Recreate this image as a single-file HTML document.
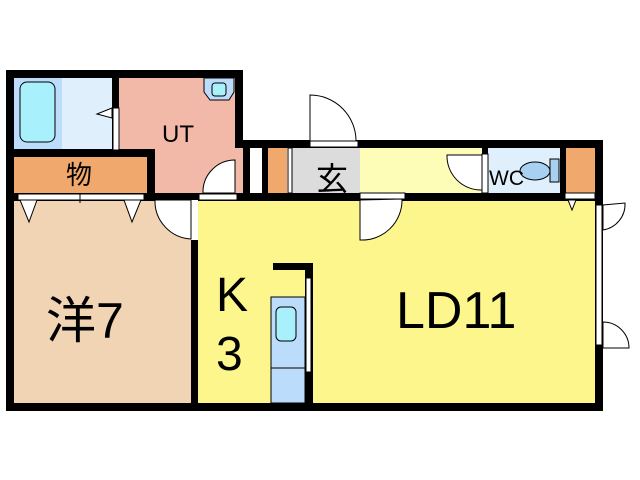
<!DOCTYPE html>
<html><head><meta charset="utf-8"><style>
html,body{margin:0;padding:0;background:#fff;width:640px;height:480px;overflow:hidden}
svg{display:block}
text{font-family:"Liberation Sans","Noto Sans CJK JP",sans-serif;fill:#000}
</style></head><body>
<svg width="640" height="480" viewBox="0 0 640 480">
<rect x="14" y="78" width="48" height="71" fill="#bcdcfc"/>
<rect x="62" y="78" width="50" height="71" fill="#dff0fc"/>
<rect x="20" y="82" width="35" height="60" rx="7" fill="#a8f0fc" stroke="#000" stroke-width="1"/>
<rect x="119" y="78" width="116" height="115" fill="#f2b8a8"/>
<rect x="155" y="148" width="88" height="45" fill="#f2b8a8"/>
<rect x="14" y="157" width="133" height="36" fill="#f0a86c"/>
<path d="M204 78 H234 V92 L229 100 H210 L204 92 Z" fill="#bcdcfc" stroke="#000"/>
<rect x="212" y="83" width="14" height="13" rx="3" fill="#a8f0fc" stroke="#000" stroke-width="1"/>
<rect x="268" y="148" width="19" height="45" fill="#f0a86c"/>
<rect x="250" y="148" width="12" height="45" fill="#fff"/>
<rect x="292" y="148" width="68" height="45" fill="#dcdcdc"/>
<rect x="360" y="148" width="122" height="45" fill="#fdfdb8"/>
<rect x="488" y="148" width="72" height="45" fill="#dff0fc"/>
<rect x="566" y="148" width="29" height="45" fill="#f0a86c"/>
<rect x="14" y="200" width="177" height="203" fill="#f0d4b4"/>
<rect x="198" y="200" width="397" height="203" fill="#fdf68c"/>
<g fill="#000">
<rect x="6" y="70" width="237" height="8"/>
<rect x="6" y="70" width="8" height="341"/>
<rect x="6" y="403" width="597" height="8"/>
<rect x="235" y="70" width="8" height="78"/>
<rect x="235" y="140" width="368" height="8"/>
<rect x="595" y="140" width="8" height="271"/>
<rect x="112" y="78" width="7" height="72"/>
<rect x="14" y="149" width="141" height="8"/>
<rect x="147" y="149" width="8" height="44"/>
<rect x="6" y="193" width="597" height="8"/>
<rect x="243" y="148" width="7" height="45"/>
<rect x="262" y="148" width="6" height="45"/>
<rect x="482" y="148" width="6" height="45"/>
<rect x="560" y="148" width="6" height="45"/>
<rect x="191" y="193" width="7" height="218"/>
<rect x="273" y="263" width="40" height="7"/>
<rect x="305" y="263" width="8" height="148"/>
</g>
<g fill="#fff" stroke="#000" stroke-width="1">
<rect x="113" y="108" width="6" height="42"/>
<rect x="18" y="194" width="126" height="6"/>
<rect x="199" y="194" width="38" height="6"/>
<rect x="191" y="200" width="7" height="40" stroke="none"/>
<rect x="310" y="141" width="48" height="6"/>
<rect x="360" y="193" width="45" height="6"/>
<rect x="565" y="193" width="30" height="6"/>
<rect x="596" y="205" width="6" height="140"/>
<rect x="288" y="148" width="4" height="45"/>
<rect x="482" y="154" width="6" height="39"/>
<rect x="306" y="278" width="5" height="94"/>
</g>
<line x1="80" y1="194" x2="80" y2="203" stroke="#000"/>
<g fill="#fff" stroke="#000" stroke-width="1">
<path d="M310 141 V95 A46 46 0 0 1 356 141 Z"/>
<path d="M360 200 V240 A40 40 0 0 0 402 199 Z"/>
<path d="M235 193 H203 A32 32 0 0 1 235 160 Z"/>
<path d="M155 200 H191 V239 A38 38 0 0 1 155 200 Z"/>
<path d="M482 190 A34 34 0 0 1 447 155 H482 Z"/>
<path d="M603 205 V230 A26 26 0 0 0 625 203 Z"/>
<path d="M603 348 V322 A26 26 0 0 1 629 348 Z"/>
<path d="M20 200 L37 200 L29 222 Z"/>
<path d="M124 200 L141 200 L132 222 Z"/>
<path d="M97 114 L112 108 L112 118 Z"/>
<path d="M568 200 L576 200 L572 210 Z"/>
</g>
<rect x="550" y="159" width="9" height="23" fill="#a8d0f0" stroke="#000"/>
<ellipse cx="535" cy="171" rx="15" ry="9" fill="#a8d0f0" stroke="#000"/>
<rect x="271" y="297" width="34" height="106" fill="#bcdcfc" stroke="#000"/>
<line x1="271" y1="368" x2="305" y2="368" stroke="#000"/>
<rect x="276" y="307" width="20" height="34" rx="5" fill="#a8f0fc" stroke="#000"/>
<text x="162" y="142" font-size="24">UT</text>
<text x="66" y="184" font-size="26">物</text>
<text x="316" y="190" font-size="32">玄</text>
<text x="489" y="185" font-size="21">WC</text>
<text x="46" y="338" font-size="50">洋7</text>
<text x="216" y="311" font-size="48">K</text>
<text x="216" y="370" font-size="48">3</text>
<text x="396" y="328" font-size="52">LD11</text>
</svg>
</body></html>
